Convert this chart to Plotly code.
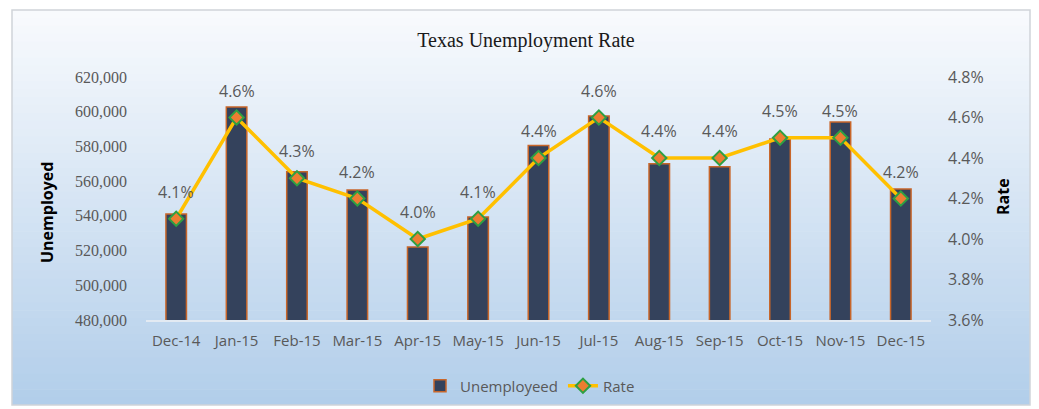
import plotly.graph_objects as go

months = ["Dec-14", "Jan-15", "Feb-15", "Mar-15", "Apr-15", "May-15", "Jun-15",
          "Jul-15", "Aug-15", "Sep-15", "Oct-15", "Nov-15", "Dec-15"]
unemployed = [541000, 602700, 565400, 554900, 522000, 539300, 580600,
              597500, 570000, 568300, 584300, 594100, 555500]
rate = [0.041, 0.046, 0.043, 0.042, 0.040, 0.041, 0.044,
        0.046, 0.044, 0.044, 0.045, 0.045, 0.042]
rate_labels = [f"{r*100:.1f}%" for r in rate]

W, H = 1039, 409
L, R, T, B = 146, 108, 77, 89
PW, PH = W - L - R, H - T - B

SANS = "Open Sans, Liberation Sans, sans-serif"
GRAY = "#595959"


def px_x(p):
    return (p - L) / PW


def px_y(p):
    return (H - B - p) / PH


fig = go.Figure()

fig.add_trace(go.Bar(
    x=months, y=unemployed, name="Unemployeed", width=0.34,
    marker=dict(color="#34425C", line=dict(color="#C8662A", width=1.5)),
))
fig.add_trace(go.Scatter(
    x=months, y=rate, name="Rate", yaxis="y2", mode="lines+markers",
    line=dict(color="#FFC000", width=3.5),
    marker=dict(symbol="diamond", size=11, color="#ED7D31",
                line=dict(color="#2EA043", width=2)),
))

for m, r, t in zip(months, rate, rate_labels):
    fig.add_annotation(x=m, y=r, yref="y2", text=t, showarrow=False,
                       yshift=27, font=dict(family=SANS, size=16, color=GRAY))

# axis titles
fig.add_annotation(xref="paper", yref="paper", x=px_x(47), y=px_y(213), text="<b>Unemployed</b>",
                   textangle=-90, showarrow=False, xanchor="center", yanchor="middle",
                   font=dict(family=SANS, size=16, color="black"))
fig.add_annotation(xref="paper", yref="paper", x=px_x(1003), y=px_y(197), text="<b>Rate</b>",
                   textangle=-90, showarrow=False, xanchor="center", yanchor="middle",
                   font=dict(family=SANS, size=16, color="black"))

# background gradient
shapes = []
top, bot = 10, 405
n = 50
c0 = (248, 250, 253)
c1 = (178, 206, 234)
for i in range(n):
    y0 = top + (bot - top) * i / n
    y1 = top + (bot - top) * (i + 1) / n + 0.6
    f = i / (n - 1)
    c = tuple(int(round(c0[k] + (c1[k] - c0[k]) * f)) for k in range(3))
    shapes.append(dict(type="rect", xref="paper", yref="paper", layer="below",
                       x0=px_x(12), x1=px_x(1030), y0=px_y(min(y1, bot)), y1=px_y(y0),
                       line=dict(width=0), fillcolor=f"rgb{c}"))
shapes.append(dict(type="rect", xref="paper", yref="paper", layer="below",
                   x0=px_x(12), x1=px_x(1030), y0=px_y(405), y1=px_y(10),
                   line=dict(color="#D0D4D9", width=1.5), fillcolor="rgba(0,0,0,0)"))

fig.update_layout(
    width=W, height=H,
    margin=dict(l=L, r=R, t=T, b=B, autoexpand=False),
    paper_bgcolor="white", plot_bgcolor="rgba(0,0,0,0)",
    shapes=shapes,
    title=dict(text="Texas Unemployment Rate", x=526 / W, xanchor="center",
               y=1 - 40 / H, yanchor="middle",
               font=dict(family="Liberation Serif, Times New Roman, serif", size=20, color="#1a1a1a")),
    xaxis=dict(showgrid=False, showline=True, linecolor="#E3EAF2", linewidth=1.5,
               range=[-0.5, 12.5], autorange=False,
               tickfont=dict(family=SANS, size=15, color=GRAY),
               ticks="", ticklabelstandoff=6, automargin=False),
    yaxis=dict(range=[480000, 620000], dtick=20000, tickformat=",", showgrid=False,
               zeroline=False, ticks="", ticklabelstandoff=18, automargin=False,
               tickfont=dict(family="Liberation Serif, serif", size=16, color=GRAY)),
    yaxis2=dict(range=[0.036, 0.048], dtick=0.002, tickformat=".1%", overlaying="y",
                side="right", showgrid=False, zeroline=False, ticks="", ticklabelstandoff=16,
                automargin=False,
                tickfont=dict(family=SANS, size=16, color=GRAY)),
    legend=dict(orientation="h", x=px_x(530), xanchor="center", y=px_y(386), yanchor="middle",
                bgcolor="rgba(0,0,0,0)",
                font=dict(family=SANS, size=15, color=GRAY)),
    showlegend=True,
)

fig.write_html("out.html", config={"displayModeBar": False},
               post_script="document.body.style.margin='0';document.body.style.overflow='hidden';")
